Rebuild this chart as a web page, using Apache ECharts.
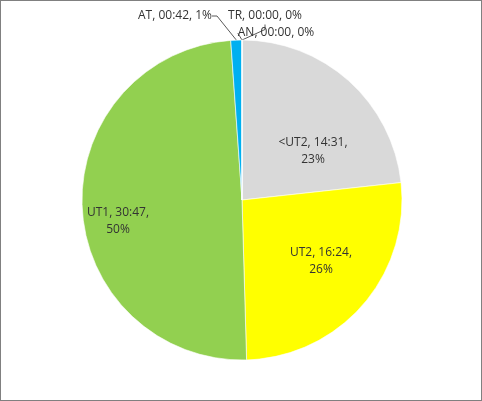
<!DOCTYPE html>
<html><head><meta charset="utf-8">
<script src="https://cdn.jsdelivr.net/npm/echarts@6/dist/echarts.min.js"></script>
<style>
html,body{margin:0;padding:0;background:#fff;}
#c{width:480px;height:399px;border:1px solid #808080;}
</style></head>
<body><div id="c"></div>
<script>
const categories = ['<UT2', 'UT2', 'UT1', 'AT', 'TR', 'AN'];
const durations = ['14:31', '16:24', '30:47', '00:42', '00:00', '00:00'];
const percentLabels = ['23%', '26%', '50%', '1%', '0%', '0%'];
const colors = ['#D9D9D9', '#FFFF00', '#92D050', '#00B0F0', '#A5A5A5', '#4472C4'];

function toSeconds(s){ const p = s.split(':'); return (+p[0])*60 + (+p[1]); }

// label placement (Excel "best fit" look), in pixels of the chart area
const labelPlace = {
  0: {x: 312, y: 150, inside: true},
  1: {x: 320, y: 260, inside: true},
  2: {x: 117, y: 220, inside: true},
  3: {x: 174, y: 15},
  4: {x: 264, y: 15},
  5: {x: 275, y: 32}
};

const data = categories.map((c, i) => ({
  name: c,
  value: toSeconds(durations[i]),
  itemStyle: {color: colors[i]},
  label: labelPlace[i].inside ? {position: 'inside', formatter: c + ', ' + durations[i] + ',\n' + percentLabels[i]} :
         {position: 'outside', formatter: c + ', ' + durations[i] + ', ' + percentLabels[i]},
  labelLine: {show: !labelPlace[i].inside}
}));

const chart = echarts.init(document.getElementById('c'));
chart.setOption({
  animation: false,
  series: [{
    type: 'pie',
    center: [241, 199],
    radius: 160,
    startAngle: 90,
    clockwise: true,
    stillShowZeroSum: true,
    avoidLabelOverlap: false,
    data: data,
    itemStyle: {borderColor: '#fff', borderWidth: 0.6},
    label: {
      fontFamily: 'Open Sans, Liberation Sans, sans-serif',
      fontSize: 12,
      color: '#333333',
      lineHeight: 17,
      align: 'center'
    },
    labelLine: {lineStyle: {color: '#595959', width: 1}, length: 10, length2: 5},
    labelLayout: function (p) {
      const t = labelPlace[p.dataIndex];
      return {x: t.x, y: t.y, align: 'center', verticalAlign: 'middle'};
    },
    emphasis: {disabled: true}
  }]
});
</script></body></html>
